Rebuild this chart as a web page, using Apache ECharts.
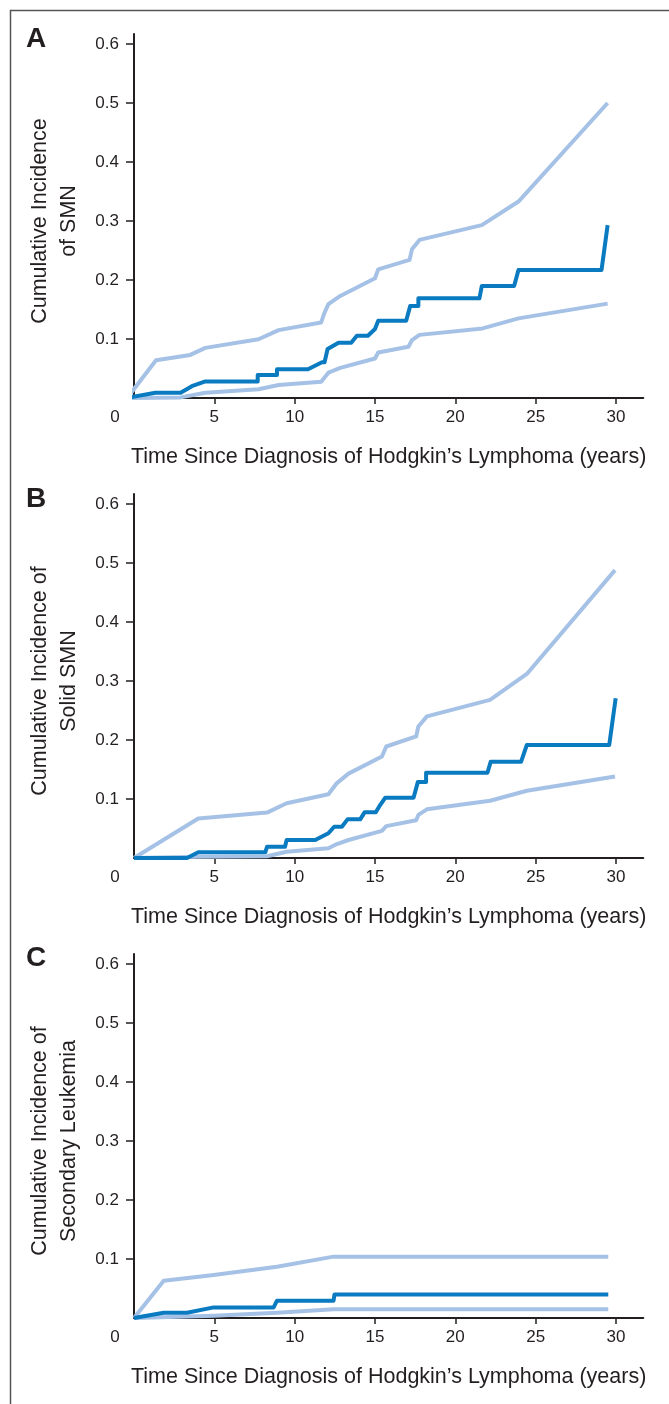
<!DOCTYPE html>
<html>
<head>
<meta charset="utf-8">
<script src="https://cdn.jsdelivr.net/npm/echarts@6/dist/echarts.min.js"></script>
<style>
html,body{margin:0;padding:0;background:#fff;}
#chart{width:669px;height:1404px;}
</style>
</head>
<body>
<div id="chart"></div>
<script>
// ---- tick labels ----
const xTickLabels = [0, 5, 10, 15, 20, 25, 30];
const xTickMarks = [5, 10, 15, 20, 25, 30];
const yTickLabels = [0.1, 0.2, 0.3, 0.4, 0.5, 0.6];

const panelLetters = ['A', 'B', 'C'];
const yTitles = ['Cumulative Incidence\nof SMN', 'Cumulative Incidence of\nSolid SMN', 'Cumulative Incidence of\nSecondary Leukemia'];
const xTitle = 'Time Since Diagnosis of Hodgkin\u2019s Lymphoma (years)';

// ---- Panel A: SMN ----
const smnEst = [[-0.43,0],[1.33,0.009],[2.9,0.009],[3.6,0.020],[4.44,0.028],[7.7,0.028],[7.7,0.039],[8.9,0.039],[8.9,0.0486],[10.83,0.0486],[11.7,0.0605],[11.86,0.0605],[12.05,0.083],[12.73,0.0937],[13.52,0.0937],[13.87,0.1056],[14.56,0.1056],[15.0,0.117],[15.2,0.131],[16.94,0.131],[17.19,0.156],[17.7,0.156],[17.7,0.169],[21.5,0.169],[21.65,0.19],[23.66,0.19],[23.93,0.217],[29.1,0.217],[29.48,0.293]];
const smnUpper = [[-0.43,0],[1.37,0.064],[3.5,0.073],[4.44,0.085],[7.75,0.0995],[9.0,0.115],[11.65,0.128],[11.84,0.1435],[12.1,0.159],[12.84,0.173],[15.0,0.203],[15.2,0.218],[17.15,0.234],[17.3,0.252],[17.77,0.268],[21.65,0.293],[23.93,0.333],[29.48,0.50]];
const smnLower = [[-0.43,0],[2.9,0.001],[4.44,0.009],[7.75,0.0147],[9.0,0.022],[11.65,0.0276],[12.1,0.043],[12.84,0.051],[15.0,0.067],[15.2,0.077],[17.08,0.087],[17.3,0.098],[17.77,0.107],[21.7,0.118],[23.93,0.135],[29.48,0.160]];

// ---- Panel B: Solid SMN ----
const solidEst = [[0,0],[3.3,0],[4.0,0.0096],[8.17,0.0096],[8.28,0.019],[9.4,0.019],[9.5,0.0305],[11.28,0.0305],[12.1,0.042],[12.2,0.042],[12.46,0.053],[12.94,0.053],[13.29,0.0655],[14.08,0.0655],[14.35,0.0774],[15.05,0.0774],[15.32,0.0898],[15.63,0.102],[17.4,0.102],[17.67,0.129],[18.18,0.129],[18.18,0.1446],[22.0,0.1446],[22.2,0.163],[24.09,0.163],[24.45,0.1915],[29.58,0.1915],[29.98,0.2707]];
const solidUpper = [[0,0],[4.0,0.067],[8.28,0.077],[9.5,0.0927],[12.1,0.108],[12.63,0.127],[13.35,0.143],[15.43,0.172],[15.7,0.189],[17.56,0.206],[17.7,0.223],[18.23,0.240],[22.16,0.268],[24.45,0.312],[29.94,0.488]];
const solidLower = [[0,0],[4.0,0.002],[8.28,0.003],[9.5,0.0107],[12.1,0.0164],[12.63,0.0237],[13.35,0.0305],[15.43,0.046],[15.7,0.054],[17.56,0.064],[17.7,0.073],[18.23,0.0825],[22.16,0.097],[24.45,0.114],[29.94,0.138]];

// ---- Panel C: Secondary Leukemia ----
const leukEst = [[0,0],[1.85,0.009],[3.3,0.009],[4.96,0.018],[8.69,0.018],[8.9,0.0293],[12.42,0.0293],[12.48,0.040],[29.52,0.040]];
const leukUpper = [[0,0],[1.85,0.063],[4.96,0.073],[8.9,0.087],[12.42,0.104],[29.52,0.104]];
const leukLower = [[0,0],[4.96,0.004],[8.9,0.009],[12.42,0.015],[29.52,0.015]];

const panels = [
  {est: smnEst, up: smnUpper, lo: smnLower},
  {est: solidEst, up: solidUpper, lo: solidLower},
  {est: leukEst, up: leukUpper, lo: leukLower}
];

const DARK = '#0a7bc1';
const LIGHT = '#a5c2e6';
const INK = '#231f20';
const FONT = '"Liberation Sans", Arial, sans-serif';

const gridTops = [34, 494, 954];
const gridH = 364;

const grids = [], xAxes = [], yAxes = [], series = [];
panels.forEach((p, i) => {
  grids.push({left: 134, right: 25.7, top: gridTops[i], height: gridH, containLabel: false});
  xAxes.push({
    type: 'value', gridIndex: i, min: 0, max: 31.7,
    axisLine: {show: true, onZero: false, lineStyle: {color: INK, width: 2}},
    axisTick: {show: true, customValues: xTickMarks, length: 6, lineStyle: {color: INK, width: 1.5}},
    axisLabel: {
      customValues: xTickLabels, margin: 11, color: INK, fontSize: 17, fontFamily: FONT,
      formatter: v => v === 0 ? '{z|0}' : String(v),
      rich: {z: {padding: [0, 38, 0, 0], color: INK, fontSize: 17, fontFamily: FONT}}
    },
    splitLine: {show: false},
    name: xTitle, nameLocation: 'middle', nameGap: 48,
    nameTextStyle: {color: INK, fontSize: 21.5, fontFamily: FONT}
  });
  yAxes.push({
    type: 'value', gridIndex: i, min: 0, max: 0.617,
    axisLine: {show: true, onZero: false, lineStyle: {color: INK, width: 2}},
    axisTick: {show: true, customValues: yTickLabels, length: 8, lineStyle: {color: INK, width: 1.5}},
    axisLabel: {customValues: yTickLabels, margin: 15, color: INK, fontSize: 17, fontFamily: FONT,
      formatter: v => v.toFixed(1)},
    splitLine: {show: false},
    name: yTitles[i], nameLocation: 'middle', nameRotate: 90, nameGap: 50,
    nameTextStyle: {color: INK, fontSize: 21.5, fontFamily: FONT, lineHeight: 29, padding: [0, 10, 0, 0]}
  });
  [[p.up, LIGHT], [p.lo, LIGHT], [p.est, DARK]].forEach(([d, c]) => {
    series.push({
      type: 'line', xAxisIndex: i, yAxisIndex: i, data: d, showSymbol: false, symbol: 'none',
      clip: false, silent: true, animation: false,
      lineStyle: {color: c, width: 4, cap: 'butt', join: 'round'}
    });
  });
});

const graphics = [
  {type: 'polyline', shape: {points: [[10.5, 1404], [10.5, 10.5], [669, 10.5]]}, style: {stroke: '#555', lineWidth: 1.5, fill: null}}
];
const letterTops = [28, 488, 947];
panelLetters.forEach((L, i) => {
  graphics.push({type: 'text', left: 26, top: letterTops[i] - 3,
    style: {text: L, fill: INK, font: 'bold 28px "Liberation Sans", Arial, sans-serif'}});
});

const chart = echarts.init(document.getElementById('chart'), null, {renderer: 'canvas'});
chart.setOption({
  animation: false,
  backgroundColor: '#fff',
  grid: grids, xAxis: xAxes, yAxis: yAxes, series: series,
  graphic: graphics
});
</script>
</body>
</html>
